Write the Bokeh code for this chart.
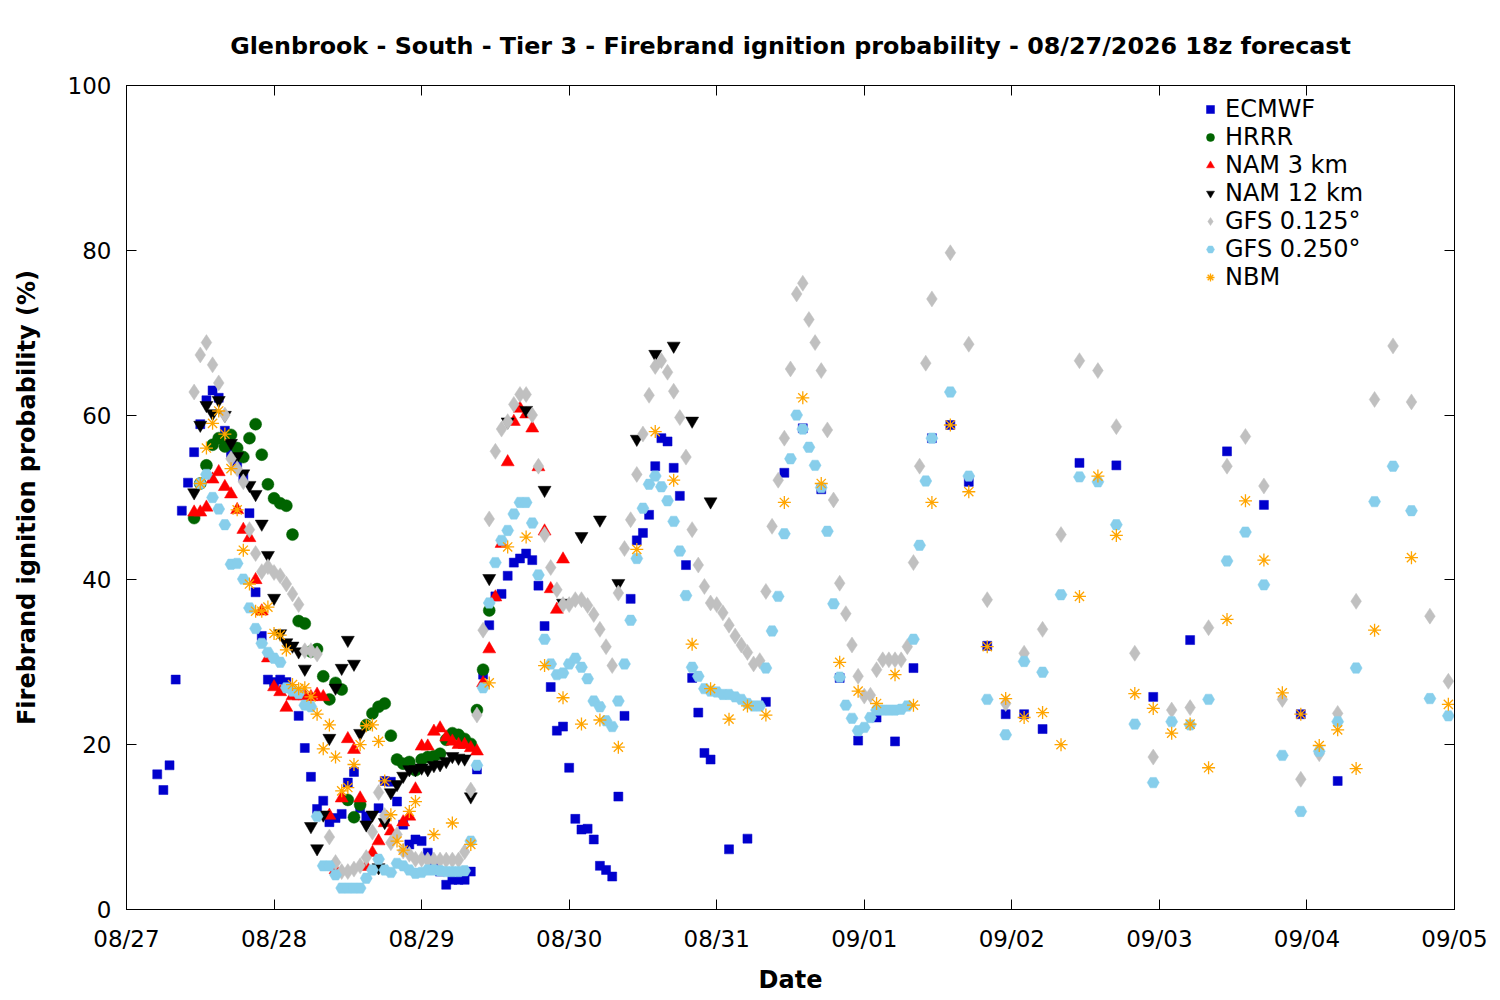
import calendar
from datetime import datetime, timedelta

from bokeh.plotting import figure
from bokeh.models import (FixedTicker, DatetimeTickFormatter, LinearAxis, DatetimeAxis,
                          Range1d, Legend, LegendItem, ColumnDataSource, CustomJSTickFormatter)
from bokeh.embed import file_html
from bokeh.resources import INLINE

TITLE = "Glenbrook - South - Tier 3 - Firebrand ignition probability - 08/27/2026 18z forecast"
BASE = datetime(2026, 8, 27)
DAY_LABELS = ["08/27", "08/28", "08/29", "08/30", "08/31", "09/01", "09/02", "09/03", "09/04", "09/05"]
Y_TICKS = [0, 20, 40, 60, 80, 100]

# ---- data: forecast hour since 08/27 00z, probability (%) ----
ecmwf_hours = (list(range(5, 27)) + list(range(28, 40)) + list(range(41, 96)) +
               [98, 101, 104, 107, 110, 113, 116, 119, 122, 125, 128, 131, 134, 137, 140,
                143, 146, 149, 155, 161, 167, 173, 179, 185, 191, 197])
ecmwf_vals = [16.4, 14.5, 17.5, 27.9, 48.4, 51.8, 55.5, 58.9, 61.8, 63.0, 62.1, 58.1, 55.4, 54.2,
              52.5, 48.1, 38.5, 33.2, 27.9, 27.6, 27.9, 27.6,
              23.5, 19.6, 16.1, 12.2, 13.2, 10.6, 11.1, 11.6, 15.4, 16.7, 12.3, 11.3,
              12.3, 15.6, 15.5, 13.1, 10.3, 7.9, 8.5, 8.3, 6.9, 5.2, 4.6, 3.0, 3.6, 3.6, 3.6, 4.6,
              17.0, 28.5, 34.5, 38.0, 38.3, 40.5, 42.1, 42.6, 43.2, 42.4, 39.3, 34.4, 27.0, 21.7,
              22.2, 17.2, 11.0, 9.7, 9.8, 8.5, 5.3, 4.8, 4.0, 13.7, 23.5, 37.7, 44.8, 45.7, 47.9,
              53.8, 57.2, 56.8, 53.6, 50.2, 41.8, 28.1, 23.9, 19.0, 18.2,
              7.3, 8.6, 25.2, 53.0, 58.4, 51.0, 28.1, 20.5, 23.3, 20.4, 29.3, 57.2, 58.8, 51.9,
              32.0, 23.7, 23.7, 21.9, 54.2, 53.9, 25.8, 32.7, 55.6, 49.1, 23.7, 15.6]

hrrr_hours = list(range(11, 60))
hrrr_vals = [47.5, 51.7, 53.9, 56.4, 57.2, 56.2, 57.6, 56.0, 54.9, 57.2, 58.9, 55.2, 51.6, 49.9,
             49.3, 49.0, 45.5, 35.0, 34.7, 31.3, 31.6, 28.3, 25.5, 27.5, 26.7, 13.3, 11.2, 12.7,
             22.4, 23.8, 24.6, 25.0, 21.1, 18.2, 17.7, 17.9, 16.9, 18.2, 18.5, 18.6, 18.9, 20.6,
             21.4, 21.2, 20.7, 20.1, 24.2, 29.1, 36.3]

nam3_hours = list(range(11, 44)) + list(range(45, 72))
nam3_vals = [48.2, 48.2, 48.8, 52.2, 53.1, 51.3, 50.4, 48.5, 46.1, 45.1,
             40.0, 36.2, 30.5, 27.0, 26.4, 24.5, 25.9, 25.9, 25.9, 25.8,
             26.1, 25.8, 11.4, 4.8, 13.5, 20.7, 19.4, 13.5, 5.2, 6.9,
             8.3, 10.5, 9.5,
             10.6, 11.3, 14.6, 19.8, 19.8, 21.6, 22.0, 20.9, 20.4, 20.0,
             20.0, 19.6, 19.2, 27.5, 31.6, 37.9, 44.4, 54.3, 59.2, 60.8,
             60.1, 58.4, 53.7, 45.9, 38.9, 36.4, 42.5]

nam12_hours = list(range(11, 57)) + [59, 62, 65, 68, 71, 74, 77, 80, 83, 86, 89, 92, 95]
nam12_vals = [50.6, 58.8, 61.2, 60.2, 61.8, 60.0, 56.6, 55.0, 52.9, 51.5,
              50.4, 46.8, 43.0, 37.8, 33.5, 32.4, 32.0, 31.3, 29.2, 10.1,
              7.4, 11.5, 20.8, 26.9, 29.3, 32.7, 29.8, 21.4, 10.3, 11.5,
              5.1, 10.6, 14.2, 15.2, 16.2, 17.0, 17.0, 17.2, 17.0, 17.5,
              17.6, 18.0, 18.6, 18.4, 18.3, 13.7,
              40.2, 59.2, 60.6, 50.9, 37.2, 45.3, 47.3, 39.6, 57.1, 67.4, 68.4, 59.3, 49.5]

gfs125_hours = list(range(11, 32)) + list(range(33, 132)) + list(range(134, 216, 3))
gfs125_vals = [62.8, 67.3, 68.8, 66.1, 63.9, 60.0, 54.7, 53.5, 51.9, 46.1,
               43.2, 41.0, 41.6, 40.9, 40.5, 39.5, 38.3, 37.0, 31.4, 31.4, 31.0,
               8.8, 5.7, 4.6, 4.6, 4.9, 5.3, 6.3, 9.4, 14.2, 11.4,
               8.1, 9.1, 7.1, 6.7, 6.1, 6.1, 6.0, 6.0, 6.0, 6.0,
               6.0, 6.0, 7.0, 14.5, 23.6, 33.9, 47.4, 55.6, 58.3, 59.2,
               61.3, 62.5, 62.5, 60.0, 53.8, 45.5, 41.5, 38.8, 37.0, 37.0,
               37.6, 37.6, 36.9, 35.8, 34.0, 31.9, 29.6, 38.4, 43.8, 47.3,
               52.8, 57.7, 62.4, 65.9, 66.6, 65.2, 62.9, 59.7, 54.9, 46.1,
               41.8, 39.2, 37.2, 37.0, 36.0, 34.5, 33.2, 32.1, 31.2, 29.8,
               30.2, 38.6, 46.5, 52.1, 57.2, 65.6, 74.7, 76.0, 71.6, 68.8,
               65.4, 58.2, 49.7, 39.6, 35.9, 32.1, 28.3, 25.9, 26.0, 29.1,
               30.3, 30.3, 30.3, 30.3, 31.9, 42.1, 53.8, 66.3, 74.1,
               79.7, 68.6, 37.6, 25.0, 31.1, 34.0, 45.5, 66.6, 65.4, 58.6,
               31.1, 18.5, 24.2, 24.5, 34.2, 53.8, 57.4, 51.4, 25.5, 15.8,
               18.9, 23.8, 37.4, 61.9, 68.4, 61.6, 35.6, 27.7]

gfs250_hours = list(range(12, 132)) + list(range(134, 216, 3))
gfs250_vals = [51.7, 52.8, 50.0, 48.6, 46.7, 41.9, 42.0, 40.1, 36.6, 34.1,
               32.3, 31.2, 30.5, 30.0, 26.9, 26.5, 26.2, 24.8, 24.6, 11.3,
               5.3, 5.3, 4.2, 2.6, 2.6, 2.6, 2.6, 3.8, 4.8, 6.1,
               4.8, 4.5, 5.6, 5.3, 4.8, 4.4, 4.5, 4.8, 4.8, 4.7,
               4.6, 4.6, 4.6, 4.7, 8.3, 17.5, 26.9, 37.2, 42.1, 44.8,
               46.0, 48.0, 49.4, 49.4, 46.9, 40.6, 32.8, 29.8, 28.5, 28.7,
               29.8, 30.5, 29.4, 28.0, 25.3, 24.6, 22.9, 22.2, 25.3, 29.8,
               35.1, 42.6, 48.7, 51.6, 52.6, 51.3, 49.6, 47.1, 43.5, 38.1,
               29.4, 28.3, 26.8, 26.5, 26.4, 26.1, 26.1, 25.8, 25.5, 25.0,
               24.7, 24.7, 29.3, 33.8, 38.0, 45.6, 54.7, 60.0, 58.3, 56.1,
               53.9, 51.2, 45.9, 37.1, 28.2, 24.8, 23.2, 21.7, 22.1, 23.3,
               24.2, 24.2, 24.2, 24.2, 24.3, 24.7, 32.8, 44.2, 52.0, 57.2,
               62.8, 52.6, 25.5, 21.2, 30.1, 28.8, 38.2, 52.5, 51.9, 46.7,
               22.5, 15.4, 22.8, 22.4, 25.5, 42.3, 45.8, 39.4, 18.7, 11.9,
               19.2, 22.8, 29.3, 49.5, 53.8, 48.4, 25.6, 23.5]

nbm_hours = list(range(12, 48)) + list(range(50, 204, 3)) + [209, 215]
nbm_vals = [51.7, 56.0, 59.0, 60.5, 57.7, 53.5, 48.5, 43.6, 39.5, 36.2,
            36.2, 36.7, 33.5, 33.3, 31.5, 27.3, 26.8, 26.9, 25.8, 23.7,
            19.5, 22.4, 18.5, 14.4, 14.8, 17.6, 20.0, 22.3, 22.4, 20.4,
            15.6, 11.5, 8.3, 7.2, 11.9, 13.1,
            9.1, 10.5, 7.9, 27.5, 44.0, 45.2, 29.6, 25.7, 22.5, 23.0,
            19.7, 43.7, 58.0, 52.1, 32.2, 26.8, 23.1, 24.7, 23.6, 49.4,
            62.1, 51.7, 30.0, 26.5, 25.0, 28.5, 24.8, 49.4, 58.8, 50.7,
            31.9, 25.6, 23.3, 23.9, 20.0, 38.0, 52.6, 45.4, 26.2, 24.4,
            21.4, 22.5, 17.2, 35.2, 49.6, 42.4, 26.3, 23.7, 19.9, 21.8,
            17.1, 33.9, 42.7, 24.9]

SERIES = [
    ("ECMWF", ecmwf_hours, ecmwf_vals, "square", 9, "#0000cd"),
    ("HRRR", hrrr_hours, hrrr_vals, "circle", 12, "#006400"),
    ("NAM 3 km", nam3_hours, nam3_vals, "triangle", 13, "#ff0000"),
    ("NAM 12 km", nam12_hours, nam12_vals, "inverted_triangle", 13, "#000000"),
    ("GFS 0.125°", gfs125_hours, gfs125_vals, "diamond", 16, "#c0c0c0"),
    ("GFS 0.250°", gfs250_hours, gfs250_vals, "hex", 12, "#87ceeb"),
    ("NBM", nbm_hours, nbm_vals, "asterisk", 13, "#ffa500"),
]

FONT = "DejaVu Sans"


def to_ms(dt):
    return calendar.timegm(dt.timetuple()) * 1000.0


day_ticks = [to_ms(BASE + timedelta(days=i)) for i in range(len(DAY_LABELS))]

p = figure(width=1492, height=996, x_axis_type="datetime",
           x_range=Range1d(BASE, BASE + timedelta(days=len(DAY_LABELS) - 1)),
           y_range=Range1d(0, 100),
           output_backend="svg", toolbar_location=None,
           min_border_left=126, min_border_right=38, min_border_top=85, min_border_bottom=86)

p.title.text = TITLE
p.title.text_font = FONT
p.title.text_font_size = "23.8px"
p.title.text_font_style = "bold"
p.title.align = "center"
p.title.text_color = "black"
p.title.standoff = 51

p.grid.visible = False
p.outline_line_color = "black"
p.outline_line_width = 1
p.background_fill_color = "white"
p.border_fill_color = "white"

fmt_kwargs = {k: "%m/%d" for k in ["microseconds", "milliseconds", "seconds", "minsec", "minutes",
                                    "hourmin", "hours", "days", "months", "years"]}


def style_axis(ax):
    ax.major_tick_in = 10
    ax.major_tick_out = 0
    ax.minor_tick_line_color = None
    ax.axis_line_color = "black"
    ax.major_tick_line_color = "black"
    ax.major_label_text_font = FONT
    ax.major_label_text_font_size = "23px"
    ax.major_label_text_color = "black"
    ax.axis_label_text_font = FONT
    ax.axis_label_text_font_size = "24px"
    ax.axis_label_text_font_style = "bold"
    ax.axis_label_text_color = "black"


xax = p.xaxis[0]
xax.ticker = FixedTicker(ticks=day_ticks)
xax.formatter = DatetimeTickFormatter(**fmt_kwargs)
xax.axis_label = "Date"
style_axis(xax)
xax.major_label_standoff = 16
xax.axis_label_standoff = 11

yax = p.yaxis[0]
yax.ticker = FixedTicker(ticks=Y_TICKS)
yax.axis_label = "Firebrand ignition probability (%)"
style_axis(yax)
yax.major_label_standoff = 15
yax.axis_label_standoff = 24

blank = CustomJSTickFormatter(code="return ''")

right_ax = LinearAxis(ticker=FixedTicker(ticks=Y_TICKS), formatter=blank)
style_axis(right_ax)
right_ax.major_label_standoff = 0
p.add_layout(right_ax, "right")

top_ax = DatetimeAxis(ticker=FixedTicker(ticks=day_ticks), formatter=blank)
style_axis(top_ax)
top_ax.major_label_standoff = 0
p.add_layout(top_ax, "above")

items = []
for name, hours, vals, marker, size, color in SERIES:
    assert len(hours) == len(vals), name
    src = ColumnDataSource(dict(t=[BASE + timedelta(hours=h) for h in hours], v=vals))
    if marker == "asterisk":
        r = p.scatter("t", "v", source=src, marker=marker, size=size, line_color=color,
                      line_width=1.3, fill_color=None)
    else:
        r = p.scatter("t", "v", source=src, marker=marker, size=size, fill_color=color,
                      line_color=color, line_width=0.5)
    items.append(LegendItem(label=name, renderers=[r]))

legend = Legend(items=items, location=(1074, 618))
legend.label_text_font = FONT
legend.label_text_font_size = "24px"
legend.label_text_color = "black"
legend.label_height = 28
legend.glyph_height = 28
legend.glyph_width = 20
legend.spacing = 0
legend.padding = 0
legend.margin = 0
legend.border_line_color = None
legend.background_fill_alpha = 0
p.add_layout(legend)

open("out.html", "w").write(file_html(p, INLINE))
